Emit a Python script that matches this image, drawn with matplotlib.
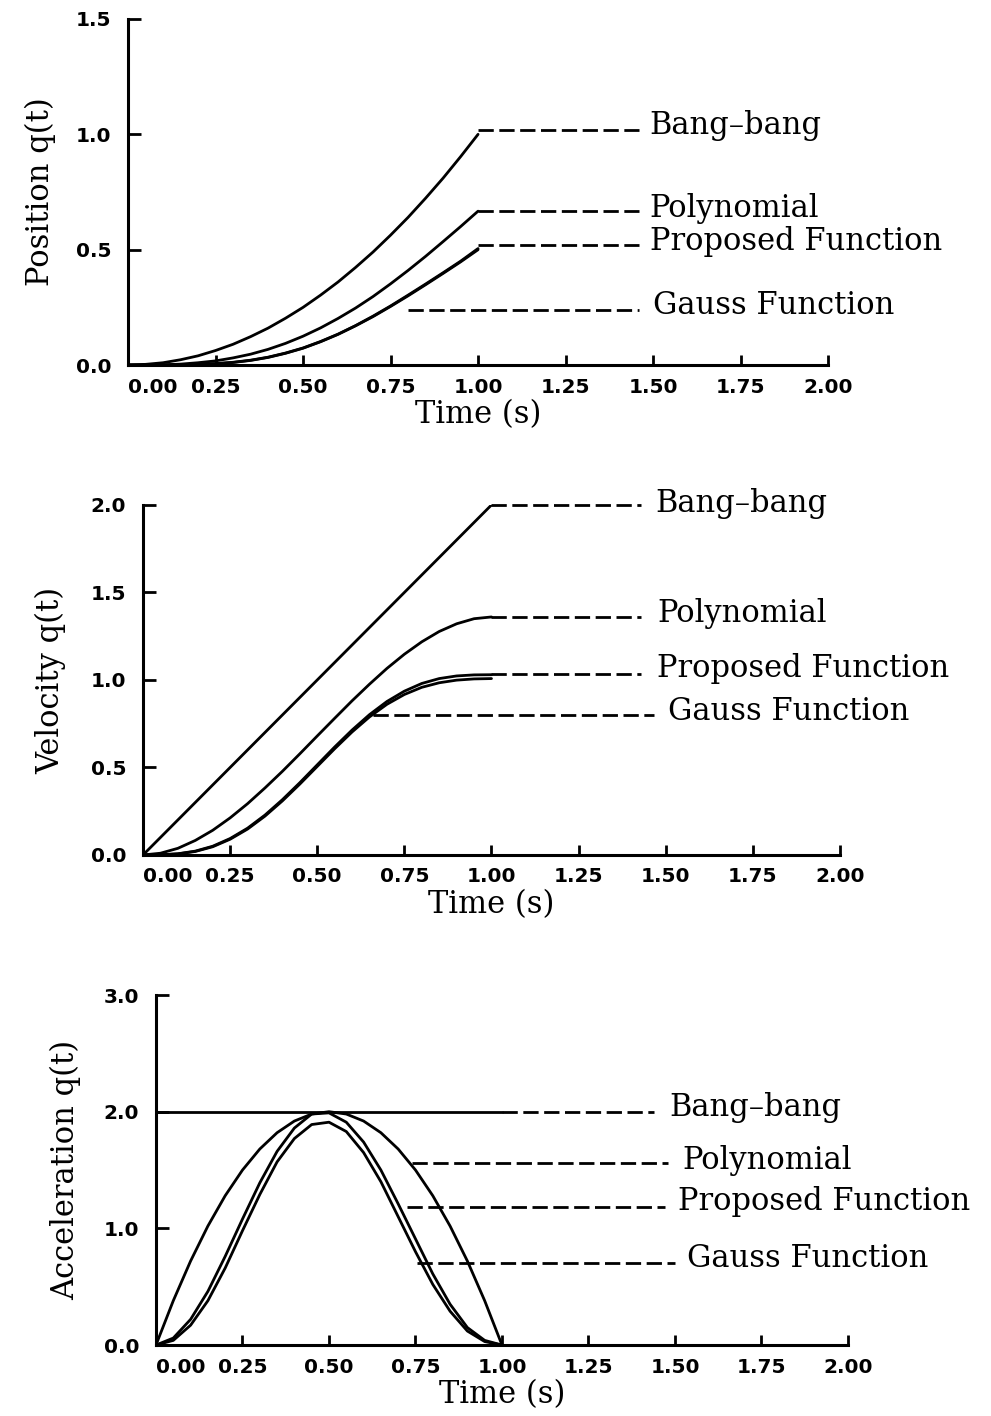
import numpy as np
import matplotlib
matplotlib.use("Agg")
import matplotlib.pyplot as plt

# time samples (s)
time = [0.00, 0.05, 0.10, 0.15, 0.20, 0.25, 0.30, 0.35, 0.40, 0.45, 0.50,
        0.55, 0.60, 0.65, 0.70, 0.75, 0.80, 0.85, 0.90, 0.95, 1.00]

# position q(t)
pos_bang = [0.000, 0.003, 0.010, 0.023, 0.040, 0.063, 0.090, 0.123, 0.160, 0.203, 0.250,
            0.303, 0.360, 0.423, 0.490, 0.563, 0.640, 0.723, 0.810, 0.903, 1.000]
pos_poly = [0.000, 0.000, 0.001, 0.004, 0.010, 0.018, 0.031, 0.047, 0.068, 0.094, 0.125,
            0.161, 0.202, 0.247, 0.297, 0.352, 0.410, 0.471, 0.535, 0.600, 0.667]
pos_prop = [0.000, 0.000, 0.000, 0.001, 0.003, 0.006, 0.012, 0.021, 0.034, 0.052, 0.074,
            0.102, 0.134, 0.171, 0.212, 0.256, 0.303, 0.351, 0.400, 0.450, 0.505]
pos_gauss = [0.000, 0.000, 0.000, 0.001, 0.003, 0.006, 0.011, 0.020, 0.033, 0.051, 0.073,
             0.101, 0.133, 0.170, 0.210, 0.254, 0.300, 0.348, 0.397, 0.447, 0.500]

# velocity
vel_bang = [0.00, 0.10, 0.20, 0.30, 0.40, 0.50, 0.60, 0.70, 0.80, 0.90, 1.00,
            1.10, 1.20, 1.30, 1.40, 1.50, 1.60, 1.70, 1.80, 1.90, 2.00]
vel_poly = [0.000, 0.010, 0.038, 0.083, 0.141, 0.212, 0.293, 0.383, 0.478, 0.578, 0.680,
            0.781, 0.881, 0.976, 1.066, 1.147, 1.218, 1.277, 1.321, 1.350, 1.360]
vel_prop = [0.000, 0.001, 0.007, 0.022, 0.050, 0.094, 0.153, 0.228, 0.316, 0.413, 0.515,
            0.617, 0.714, 0.802, 0.877, 0.936, 0.980, 1.008, 1.023, 1.029, 1.030]
vel_gauss = [0.000, 0.001, 0.006, 0.020, 0.047, 0.090, 0.148, 0.222, 0.309, 0.405, 0.506,
             0.607, 0.703, 0.789, 0.861, 0.917, 0.958, 0.984, 0.999, 1.006, 1.008]

# acceleration
acc_bang = [2.0, 2.0, 2.0, 2.0, 2.0, 2.0, 2.0, 2.0, 2.0, 2.0, 2.0,
            2.0, 2.0, 2.0, 2.0, 2.0, 2.0, 2.0, 2.0, 2.0, 2.0]
acc_poly = [0.00, 0.38, 0.72, 1.02, 1.28, 1.50, 1.68, 1.82, 1.92, 1.98, 2.00,
            1.98, 1.92, 1.82, 1.68, 1.50, 1.28, 1.02, 0.72, 0.38, 0.00]
acc_prop = [0.00, 0.06, 0.22, 0.46, 0.76, 1.08, 1.39, 1.66, 1.86, 1.98, 1.99,
            1.91, 1.74, 1.50, 1.21, 0.91, 0.61, 0.35, 0.15, 0.04, 0.00]
acc_gauss = [0.00, 0.04, 0.17, 0.38, 0.66, 0.98, 1.29, 1.57, 1.77, 1.89, 1.91,
             1.83, 1.65, 1.40, 1.10, 0.80, 0.52, 0.29, 0.12, 0.03, 0.00]

names = ["Bang\u2013bang", "Polynomial", "Proposed Function", "Gauss Function"]
x_ticks = [0.00, 0.25, 0.50, 0.75, 1.00, 1.25, 1.50, 1.75, 2.00]

SERIF = "DejaVu Serif"


def draw_panel(ax, series, yticks, ylabel, leaders, ylabelpad=16):
    for s in series:
        ax.plot(time, s, color="k", lw=2.0, solid_capstyle="round",
                solid_joinstyle="round")
    # leader line (x0, x1, y) and label anchor (xt, yt)
    for name, (x0, x1, yl, xt, yt) in zip(names, leaders):
        ax.plot([x0, x1], [yl, yl], color="k", lw=2.0, ls=(0, (5.5, 2)), clip_on=False)
        ax.text(xt, yt, name, fontsize=22, family=SERIF, va="center", ha="left")

    ax.set_xlim(0, 2.0)
    ax.set_ylim(0, yticks[-1])
    ax.spines[["top", "right"]].set_visible(False)
    for sp in ["left", "bottom"]:
        ax.spines[sp].set_linewidth(2.2)

    ax.set_xticks(x_ticks, ["%.2f" % v for v in x_ticks])
    ax.set_yticks(yticks, ["%.1f" % v for v in yticks])
    ax.tick_params(axis="x", direction="in", length=7, width=2, pad=9)
    ax.tick_params(axis="y", direction="in", length=9, width=2, pad=12)
    for lab in ax.get_xticklabels() + ax.get_yticklabels():
        lab.set_fontweight("bold")
        lab.set_fontsize(14.5)
    ax.get_xticklabels()[0].set_horizontalalignment("left")
    ax.xaxis.get_major_ticks()[0].tick1line.set_visible(False)

    ax.set_xlabel("Time (s)", fontsize=22, family=SERIF, labelpad=2)
    ax.set_ylabel(ylabel, fontsize=22, family=SERIF, labelpad=ylabelpad)


fig = plt.figure(figsize=(9.91, 14.16), dpi=100)

ax1 = fig.add_axes([0.1292, 0.7422, 0.7064, 0.2444])
draw_panel(ax1, [pos_bang, pos_poly, pos_prop, pos_gauss], [0.0, 0.5, 1.0, 1.5],
           "Position q(t)",
           [(1.0, 1.46, 1.02, 1.49, 1.04),
            (1.0, 1.46, 0.667, 1.49, 0.68),
            (1.0, 1.46, 0.52, 1.49, 0.535),
            (0.80, 1.46, 0.24, 1.50, 0.26)],
           ylabelpad=14)

ax2 = fig.add_axes([0.1443, 0.3962, 0.7033, 0.2472])
draw_panel(ax2, [vel_bang, vel_poly, vel_prop, vel_gauss], [0.0, 0.5, 1.0, 1.5, 2.0],
           "Velocity q(t)",
           [(1.0, 1.43, 2.0, 1.47, 2.01),
            (1.0, 1.43, 1.36, 1.475, 1.38),
            (1.0, 1.43, 1.035, 1.475, 1.065),
            (0.66, 1.465, 0.80, 1.507, 0.82)],
           ylabelpad=18)

ax3 = fig.add_axes([0.1574, 0.0501, 0.6983, 0.2472])
draw_panel(ax3, [acc_bang, acc_poly, acc_prop, acc_gauss], [0.0, 1.0, 2.0, 3.0],
           "Acceleration q(t)",
           [(1.0, 1.44, 2.0, 1.485, 2.04),
            (0.74, 1.48, 1.56, 1.52, 1.58),
            (0.726, 1.47, 1.18, 1.508, 1.23),
            (0.755, 1.50, 0.70, 1.534, 0.745)],
           ylabelpad=16)

fig.savefig("out.png", dpi=100, facecolor="white")
